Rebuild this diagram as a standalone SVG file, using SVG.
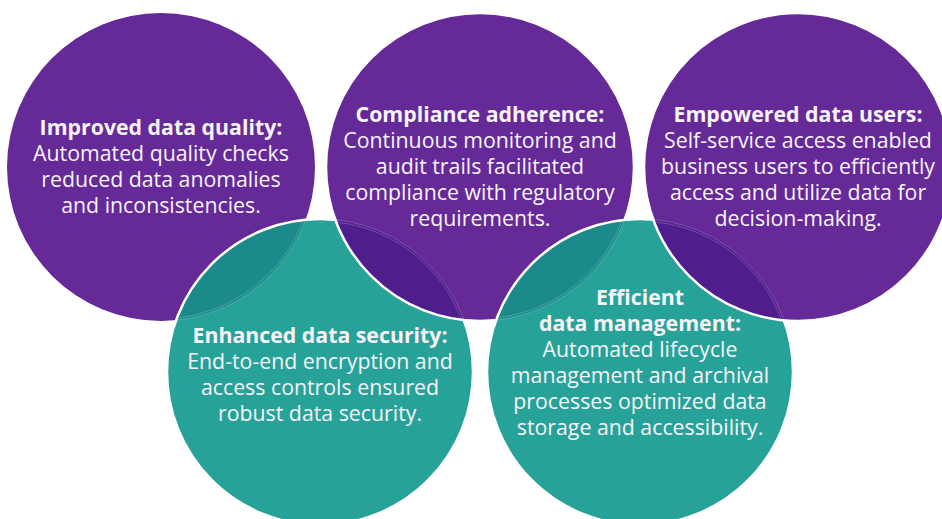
<svg xmlns="http://www.w3.org/2000/svg" width="942" height="519" viewBox="0 0 942 519">
<style>
.purple{fill:#652a97}
.teal{fill:#27a298}
.dteal{fill:#1a8b8a}
.dpurple{fill:#4f1e8c}
.edge{fill:none;stroke:#ffffff;stroke-width:2.5}
.faint{fill:none;stroke:#ffffff;stroke-opacity:0.3;stroke-width:0.7}
text{font-family:"Open Sans","Noto Sans","DejaVu Sans",sans-serif;font-size:21.3px;fill:#f6f3f9;text-anchor:middle}
.b{font-weight:bold}
</style>
<defs>
<clipPath id="cP1"><circle cx="161" cy="167" r="154"/></clipPath>
<clipPath id="cP2"><circle cx="480" cy="167" r="154"/></clipPath>
<clipPath id="cP3"><circle cx="798" cy="167" r="154"/></clipPath>
<clipPath id="cT4"><circle cx="320" cy="372" r="153"/></clipPath>
<clipPath id="cT5"><circle cx="640" cy="372" r="153"/></clipPath>
</defs>

<g id="node-improved-quality">
<circle class="purple" cx="161" cy="167" r="154"/>
</g>

<g id="node-data-security">
<circle class="teal" cx="320" cy="372" r="153"/>
<circle class="dteal" cx="320" cy="372" r="153" clip-path="url(#cP1)"/>
<g clip-path="url(#cT4)">
<circle class="faint" cx="161" cy="167" r="154"/>
<circle class="faint" cx="161" cy="167" r="151.8"/>
</g>
<circle class="edge" cx="320" cy="372" r="153"/>
</g>

<g id="node-compliance">
<circle class="purple" cx="480" cy="167" r="154"/>
<circle class="dpurple" cx="480" cy="167" r="154" clip-path="url(#cT4)"/>
<g clip-path="url(#cP2)">
<circle class="faint" cx="320" cy="372" r="153"/>
<circle class="faint" cx="320" cy="372" r="150.8"/>
</g>
<circle class="edge" cx="480" cy="167" r="154"/>
</g>

<g id="node-data-management">
<circle class="teal" cx="640" cy="372" r="153"/>
<circle class="dteal" cx="640" cy="372" r="153" clip-path="url(#cP2)"/>
<g clip-path="url(#cT5)">
<circle class="faint" cx="480" cy="167" r="154"/>
<circle class="faint" cx="480" cy="167" r="151.8"/>
</g>
<circle class="edge" cx="640" cy="372" r="153"/>
</g>

<g id="node-empowered-users">
<circle class="purple" cx="798" cy="167" r="154"/>
<circle class="dpurple" cx="798" cy="167" r="154" clip-path="url(#cT5)"/>
<g clip-path="url(#cP3)">
<circle class="faint" cx="640" cy="372" r="153"/>
<circle class="faint" cx="640" cy="372" r="150.8"/>
</g>
<circle class="edge" cx="798" cy="167" r="154"/>
</g>

<g id="connectors"></g>

<g id="labels">
<text x="161" y="135" class="b">Improved data quality:</text>
<text x="161" y="161">Automated quality checks</text>
<text x="161" y="187">reduced data anomalies</text>
<text x="161" y="213">and inconsistencies.</text>

<text x="480" y="122" class="b">Compliance adherence:</text>
<text x="480" y="148">Continuous monitoring and</text>
<text x="480" y="174">audit trails facilitated</text>
<text x="480" y="200">compliance with regulatory</text>
<text x="480" y="226">requirements.</text>

<text x="798" y="122" class="b">Empowered data users:</text>
<text x="798" y="148">Self-service access enabled</text>
<text x="798" y="174">business users to efficiently</text>
<text x="798" y="200">access and utilize data for</text>
<text x="798" y="226">decision-making.</text>

<text x="320" y="343" class="b">Enhanced data security:</text>
<text x="320" y="369">End-to-end encryption and</text>
<text x="320" y="395">access controls ensured</text>
<text x="320" y="421">robust data security.</text>

<text x="640" y="305" class="b">Efficient</text>
<text x="640" y="331" class="b">data management:</text>
<text x="640" y="357">Automated lifecycle</text>
<text x="640" y="383">management and archival</text>
<text x="640" y="409">processes optimized data</text>
<text x="640" y="435">storage and accessibility.</text>
</g>
</svg>
